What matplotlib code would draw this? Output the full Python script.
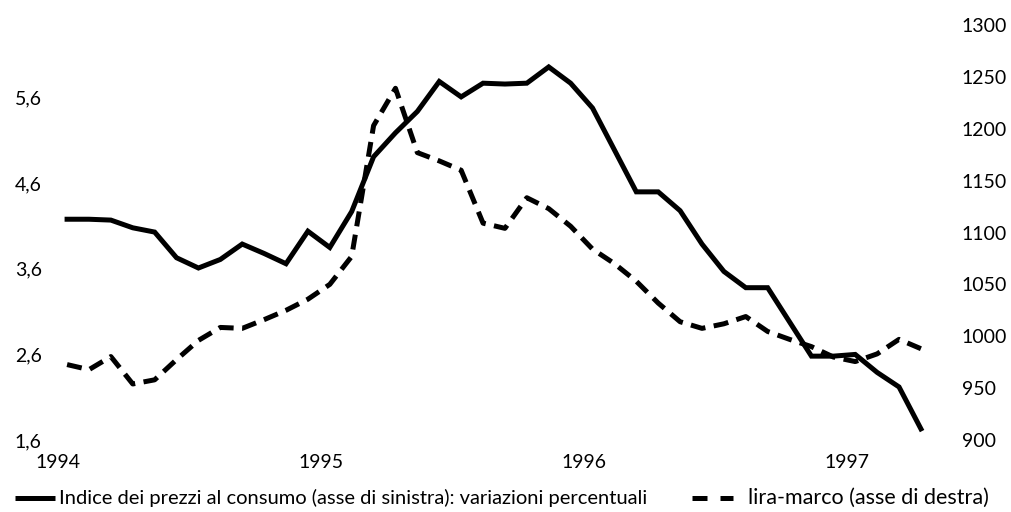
import matplotlib
matplotlib.use("Agg")
import matplotlib.pyplot as plt
from matplotlib.lines import Line2D

# Monthly data, Jan 1994 - Apr 1997
months = list(range(40))
cpi = [4.18, 4.18, 4.17, 4.08, 4.03, 3.73, 3.61, 3.71, 3.89, 3.78,
       3.66, 4.04, 3.85, 4.27, 4.91, 5.19, 5.44, 5.79, 5.61, 5.77,
       5.76, 5.77, 5.96, 5.77, 5.48, 4.99, 4.50, 4.50, 4.28, 3.89,
       3.57, 3.38, 3.38, 2.98, 2.58, 2.58, 2.60, 2.39, 2.22, 1.73]
lira_marco = [972.7, 967.8, 980.4, 954.0, 958.0, 977.5, 996.0, 1008.5, 1007.6, 1016.0,
              1025.0, 1035.7, 1050.0, 1077.0, 1203.0, 1239.0, 1177.0, 1169.0, 1160.0, 1109.0,
              1104.0, 1133.5, 1123.0, 1106.0, 1084.0, 1070.0, 1053.0, 1032.0, 1014.0, 1007.6,
              1012.0, 1019.0, 1004.6, 997.0, 990.0, 980.0, 975.6, 983.0, 997.0, 988.0]
year_labels = ["1994", "1995", "1996", "1997"]
left_ticks = [1.6, 2.6, 3.6, 4.6, 5.6]
left_tick_labels = ["1,6", "2,6", "3,6", "4,6", "5,6"]
right_ticks = [900, 950, 1000, 1050, 1100, 1150, 1200, 1250, 1300]
label_cpi = "Indice dei prezzi al consumo (asse di sinistra): variazioni percentuali"
label_lm = "lira-marco (asse di destra)"

plt.rcParams['font.family'] = ['Lato', 'DejaVu Sans']
FS = 14

W, H = 1012, 512
fig = plt.figure(figsize=(W / 100, H / 100), dpi=100)
L, R, T, B = 50, 945, 25, 440
ax = fig.add_axes([L / W, 1 - B / H, (R - L) / W, (B - T) / H])
ax2 = ax.twinx()

lw = 3.6
ax.plot(months, cpi, color="black", lw=lw, solid_joinstyle="miter", zorder=3)
ax2.plot(months, lira_marco, color="black", lw=lw, dashes=(3.0, 1.7), zorder=3)

ax.set_xlim(-0.78, 40.1)
ax.set_ylim(1.6, 6.45)
ax2.set_ylim(900, 1300)

ax.set_xticks([12 * i - 0.4 for i in range(len(year_labels))])
ax.set_xticklabels(year_labels, fontsize=FS)
ax.set_yticks(left_ticks)
ax.set_yticklabels(left_tick_labels, fontsize=FS)
ax2.set_yticks(right_ticks)
ax2.set_yticklabels([str(v) for v in right_ticks], fontsize=FS)

ax.tick_params(axis="x", length=0, pad=10)
ax.tick_params(axis="y", length=0, pad=6)
ax2.tick_params(axis="y", length=0, pad=12)
for a in (ax, ax2):
    for s in a.spines.values():
        s.set_visible(False)
    a.patch.set_visible(False)

# Legend drawn manually below the plot
ly = 1 - 498 / H
fig.add_artist(Line2D([15 / W, 55 / W], [ly, ly], transform=fig.transFigure,
                      color="black", lw=lw, solid_capstyle="butt"))
fig.text(59 / W, ly, label_cpi, fontsize=14.5, va="center", ha="left")
fig.add_artist(Line2D([692 / W, 733 / W], [ly, ly], transform=fig.transFigure,
                      color="black", lw=lw, dashes=(3.0, 2.6), dash_capstyle="butt"))
fig.text(748 / W, ly, label_lm, fontsize=15.5, va="center", ha="left")

fig.savefig("out.png", dpi=100)
